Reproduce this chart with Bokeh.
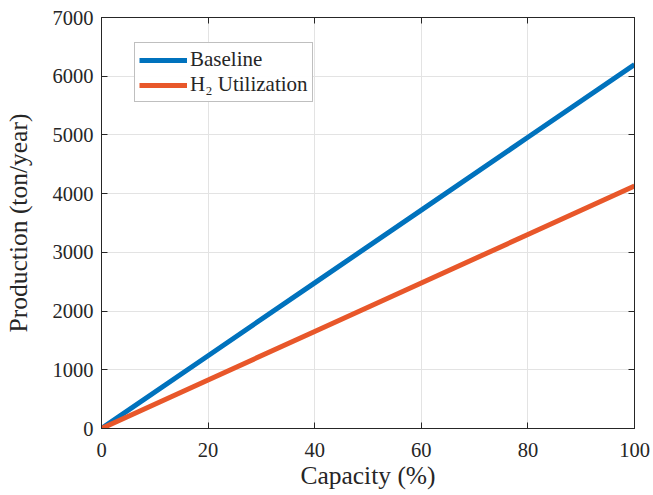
from bokeh.plotting import figure
from bokeh.models import LinearAxis, Range1d, Legend, LegendItem, FixedTicker, CustomJSTickFormatter
from bokeh.embed import file_html
from bokeh.resources import INLINE

capacity = [0, 20, 40, 60, 80, 100]
baseline = [0, 1240, 2480, 3720, 4960, 6200]
h2_utilization = [0, 826, 1652, 2478, 3304, 4130]
x_ticks = [0, 20, 40, 60, 80, 100]
y_ticks = [0, 1000, 2000, 3000, 4000, 5000, 6000, 7000]

FONT = "Liberation Serif"
AX = "#262626"

p = figure(width=653, height=495, output_backend="svg", toolbar_location=None,
           x_range=Range1d(0, 100), y_range=Range1d(0, 7000),
           frame_width=533, frame_height=411,
           min_border_left=101, min_border_right=19, min_border_top=17, min_border_bottom=67)
p.background_fill_color = "white"
p.border_fill_color = "white"
p.outline_line_color = AX
p.outline_line_width = 1

for ax, ticks in ((p.xaxis[0], x_ticks), (p.yaxis[0], y_ticks)):
    ax.ticker = FixedTicker(ticks=ticks)
    ax.major_tick_in = 6
    ax.major_tick_out = 0
    ax.minor_tick_in = 0
    ax.minor_tick_out = 0
    ax.axis_line_color = AX
    ax.major_tick_line_color = AX
    ax.major_label_text_font = FONT
    ax.major_label_text_font_size = "20.5px"
    ax.major_label_text_color = AX
    ax.axis_label_text_font = FONT
    ax.axis_label_text_font_size = "25.5px"
    ax.axis_label_text_font_style = "normal"
    ax.axis_label_text_color = AX

p.xaxis[0].axis_label = "Capacity (%)"
p.yaxis[0].axis_label = "Production (ton/year)"
p.xaxis[0].major_label_standoff = 14
p.yaxis[0].major_label_standoff = 8
p.xaxis[0].axis_label_standoff = 1
p.yaxis[0].axis_label_standoff = 17

for loc, ticks in (("right", y_ticks), ("above", x_ticks)):
    a = LinearAxis(ticker=FixedTicker(ticks=ticks),
                   formatter=CustomJSTickFormatter(code="return ''"),
                   major_tick_in=6, major_tick_out=0, minor_tick_in=0, minor_tick_out=0,
                   axis_line_color=AX, major_tick_line_color=AX)
    p.add_layout(a, loc)

p.xgrid.ticker = FixedTicker(ticks=x_ticks)
p.ygrid.ticker = FixedTicker(ticks=y_ticks)
p.grid.grid_line_color = "#e3e3e3"
p.grid.grid_line_width = 1

r1 = p.line(capacity, baseline, line_color="#0072BD", line_width=5)
r2 = p.line(capacity, h2_utilization, line_color="#E8572A", line_width=5)

legend = Legend(items=[LegendItem(label="Baseline", renderers=[r1]),
                       LegendItem(label="H₂ Utilization", renderers=[r2])],
                location=(33, 326))
legend.label_text_font = FONT
legend.label_text_font_size = "21px"
legend.label_text_color = AX
legend.border_line_color = "#7f7f7f"
legend.border_line_width = 1
legend.margin = 0
legend.padding = 4
legend.spacing = 0
legend.glyph_width = 48
legend.label_standoff = 3
legend.label_height = 22
legend.glyph_height = 22
p.add_layout(legend)

open("out.html", "w").write(file_html(p, INLINE))
